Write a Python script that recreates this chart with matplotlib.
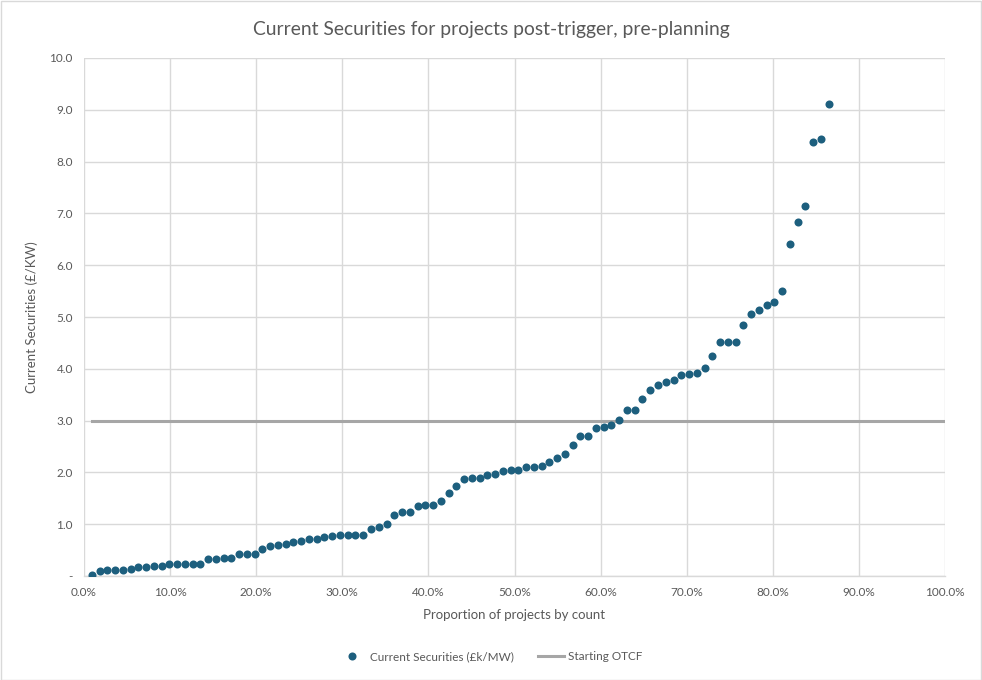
import numpy as np
import matplotlib
matplotlib.use("Agg")
import matplotlib.pyplot as plt
from matplotlib.patches import Rectangle
from matplotlib.ticker import FixedLocator

plt.rcParams['font.family'] = ['Lato', 'DejaVu Sans']

# ---- data ----
total_projects = 111  # projects counted for the x proportion (points above 10.0 are off-scale)
securities = [
    0.02, 0.10, 0.12, 0.12, 0.12, 0.14, 0.17, 0.17, 0.19, 0.19,
    0.23, 0.23, 0.23, 0.23, 0.23, 0.32, 0.32, 0.35, 0.35, 0.42,
    0.43, 0.43, 0.53, 0.57, 0.59, 0.62, 0.65, 0.68, 0.71, 0.71,
    0.76, 0.77, 0.80, 0.80, 0.80, 0.80, 0.91, 0.95, 1.00, 1.18,
    1.24, 1.24, 1.36, 1.38, 1.38, 1.45, 1.60, 1.74, 1.87, 1.90,
    1.90, 1.95, 1.96, 2.02, 2.04, 2.05, 2.10, 2.10, 2.13, 2.21,
    2.28, 2.35, 2.53, 2.70, 2.70, 2.85, 2.87, 2.91, 3.02, 3.20,
    3.20, 3.42, 3.60, 3.69, 3.75, 3.78, 3.88, 3.89, 3.92, 4.01,
    4.25, 4.52, 4.52, 4.52, 4.85, 5.06, 5.14, 5.23, 5.29, 5.50,
    6.40, 6.84, 7.14, 8.38, 8.44, 9.11,
]
proportion = np.arange(1, len(securities) + 1) / total_projects
otcf_value = 3.0
otcf_x = [proportion[0], 1.0]
otcf_y = [otcf_value, otcf_value]

title = "Current Securities for projects post-trigger, pre-planning"
x_label = "Proportion of projects by count"
y_label = "Current Securities (£/KW)"
series_label = "Current Securities (£k/MW)"
otcf_label = "Starting OTCF"
y_ticks = [0, 1, 2, 3, 4, 5, 6, 7, 8, 9, 10]
y_tick_labels = ["-", "1.0", "2.0", "3.0", "4.0", "5.0", "6.0", "7.0", "8.0", "9.0", "10.0"]
x_ticks = [0.0, 0.1, 0.2, 0.3, 0.4, 0.5, 0.6, 0.7, 0.8, 0.9, 1.0]
x_tick_labels = ["0.0%", "10.0%", "20.0%", "30.0%", "40.0%", "50.0%",
                 "60.0%", "70.0%", "80.0%", "90.0%", "100.0%"]

# ---- figure ----
W, H = 982, 680
fig = plt.figure(figsize=(W / 100, H / 100), dpi=100)
ax = fig.add_axes([84 / W, 1 - 576 / H, (945 - 84) / W, (576 - 58) / H])

text_col = "#595959"
grid_col = "#d9d9d9"

ax.plot(otcf_x, otcf_y, color="#a6a6a6", lw=2.2, zorder=2, label=otcf_label)
ax.plot(proportion, securities, linestyle="none", marker="o", markersize=5.8,
        color="#1d5f7e", markeredgewidth=0, zorder=3, label=series_label)

ax.set_xlim(0, 1)
ax.set_ylim(0, 10)
ax.xaxis.set_major_locator(FixedLocator(x_ticks))
ax.yaxis.set_major_locator(FixedLocator(y_ticks))
ax.set_xticklabels(x_tick_labels)
ax.set_yticklabels(y_tick_labels)
ax.grid(True, color=grid_col, lw=1.0, zorder=0)
ax.set_axisbelow(True)
for s in ["top", "right", "left"]:
    ax.spines[s].set_visible(False)
ax.spines["bottom"].set_color(grid_col)
ax.spines["bottom"].set_linewidth(1.0)
ax.tick_params(axis="both", length=0, labelsize=8.5, colors=text_col, pad=8)

ax.set_xlabel(x_label, fontsize=9.5, color=text_col, labelpad=8)
ax.set_ylabel(y_label, fontsize=9.5, color=text_col, labelpad=8)
fig.text(0.5, 1 - 29 / H, title, ha="center", va="center", fontsize=13.9, color=text_col)

h, l = ax.get_legend_handles_labels()
leg = fig.legend(h[::-1], l[::-1], loc="center", bbox_to_anchor=(0.5, 1 - 657 / H),
                 ncol=2, frameon=False, fontsize=8.5, handlelength=2.2,
                 columnspacing=2.0, handletextpad=0.4)
for t in leg.get_texts():
    t.set_color(text_col)

fig.patches.append(Rectangle((0.5 / W, 0.5 / H), (W - 1.5) / W, (H - 1.5) / H,
                             transform=fig.transFigure, fill=False,
                             edgecolor="#d9d9d9", lw=1.0))

fig.savefig("out.png", dpi=100, facecolor="white")
